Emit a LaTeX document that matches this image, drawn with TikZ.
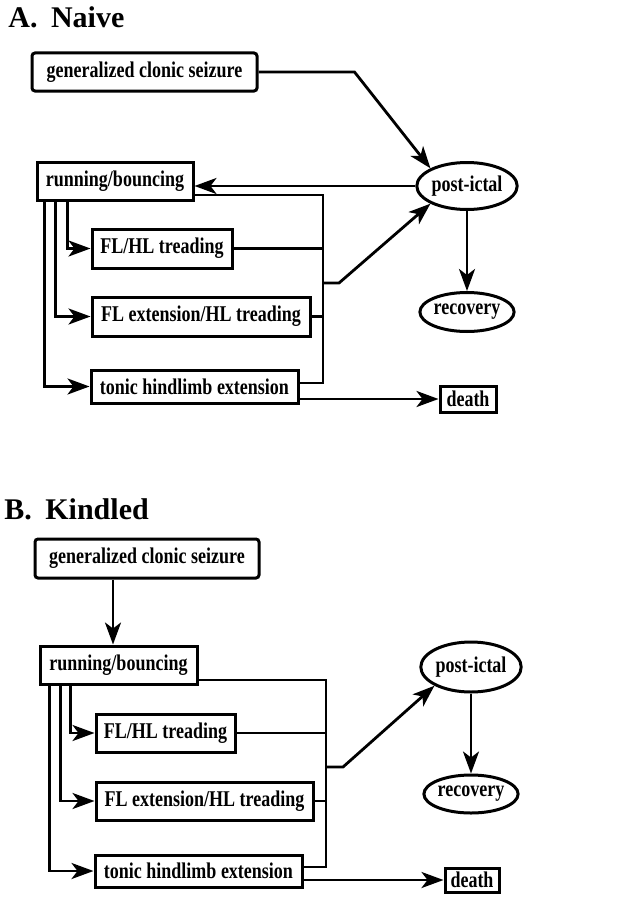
\documentclass[tikz,border=0pt]{standalone}
\usepackage{fontspec}
\setmainfont{Liberation Serif}
\newfontfamily\stagefont{Liberation Serif}[FakeStretch=0.8]
\usetikzlibrary{arrows.meta,shapes.geometric}
\tikzset{
  stage/.style   = {shape=rectangle, draw, line width=3pt,
                    inner sep=0pt, align=center,
                    font=\stagefont\bfseries\fontsize{22.5}{24}\selectfont},
  onset/.style   = {stage, rounded corners=3pt},
  outcome/.style = {stage, ellipse},
  boxsize/.style 2 args = {minimum width=#1pt, minimum height=#2pt},
  panel/.style   = {anchor=base west, inner sep=0pt,
                    font=\bfseries\fontsize{30}{32}\selectfont},
  wire/.style    = {line width=2.8pt},
  arr/.style     = {-{Stealth[length=22pt,width=16pt,inset=6pt]}}
}

\begin{document}
\begin{tikzpicture}[x=1pt, y=-1pt, wire]
  \useasboundingbox (0,0) rectangle (625,899);

  % A. Naive
  \node[panel] (titleA) at (7,28) {A.\hspace{0.45em}Naive};
  \node[onset,   boxsize={225}{38}] (genA)   at (144.5,72)  {generalized clonic seizure};
  \node[stage,   boxsize={156}{38}] (runA)   at (115,181)   {running/bouncing};
  \node[stage,   boxsize={140}{39}] (flhlA)  at (162,248.5) {FL/HL treading};
  \node[stage,   boxsize={218}{39}] (flextA) at (201,316.5) {FL extension/HL treading};
  \node[stage,   boxsize={207}{33}] (tonicA) at (194.5,386.5) {tonic hindlimb extension};
  \node[stage,   boxsize={56}{26}]  (deathA) at (468,399)   {death};
  \node[outcome, boxsize={93}{47}]  (postA)  at (467,186)   {post-ictal};
  \node[outcome, boxsize={89}{39}]  (recA)   at (467,312)   {recovery};
  \coordinate (busA) at (323,0);
  \coordinate (jA)   at (323,283);

  \draw[arr] (genA.east) -- ++(96,0) -- (postA.north west);
  \draw[arr] (postA.west) -- (postA.west -| runA.east);
  \draw ([yshift=-14pt]runA.east) -| ([yshift=3.5pt]tonicA.east -| busA)
        -- ([yshift=3.5pt]tonicA.east);
  \foreach \n in {flhlA, flextA}
    \draw (\n.east) -- (\n.east -| busA);
  \draw[arr] (jA) -- ++(16,0) -- (postA.south west);
  \draw[arr] (postA.south) -- (recA.north);
  \draw[arr] (deathA.west -| tonicA.east) -- (deathA.west);
  \foreach \dx/\n in {32/flhlA, 20/flextA, 9/tonicA}
    \draw[arr] ([xshift=\dx pt]runA.south west) |- (\n.west);

  % B. Kindled
  \node[panel] (titleB) at (3,519) {B.\hspace{0.45em}Kindled};
  \node[onset,   boxsize={224}{39}] (genB)   at (147,558.5) {generalized clonic seizure};
  \node[stage,   boxsize={157}{38}] (runB)   at (118.5,665) {running/bouncing};
  \node[stage,   boxsize={139}{38}] (flhlB)  at (165.5,733) {FL/HL treading};
  \node[stage,   boxsize={217}{38}] (flextB) at (204.5,801) {FL extension/HL treading};
  \node[stage,   boxsize={207}{32}] (tonicB) at (198.5,871) {tonic hindlimb extension};
  \node[stage,   boxsize={54}{24}]  (deathB) at (472,880)   {death};
  \node[outcome, boxsize={94}{50}]  (postB)  at (471,667)   {post-ictal};
  \node[outcome, boxsize={88}{38}]  (recB)   at (471,794)   {recovery};
  \coordinate (busB) at (326,0);
  \coordinate (jB)   at (326,767);

  \draw[arr] ([xshift=-34pt]genB.south) -- ([xshift=-34pt]genB.south |- runB.north);
  \draw ([yshift=-15pt]runB.east) -| ([yshift=4pt]tonicB.east -| busB)
        -- ([yshift=4pt]tonicB.east);
  \foreach \n in {flhlB, flextB}
    \draw (\n.east) -- (\n.east -| busB);
  \draw[arr] (jB) -- ++(17,0) -- (postB.south west);
  \draw[arr] (postB.south) -- (recB.north);
  \draw[arr] (deathB.west -| tonicB.east) -- (deathB.west);
  \foreach \dx/\n in {32/flhlB, 22/flextB, 11/tonicB}
    \draw[arr] ([xshift=\dx pt]runB.south west) |- (\n.west);
\end{tikzpicture}
\end{document}
